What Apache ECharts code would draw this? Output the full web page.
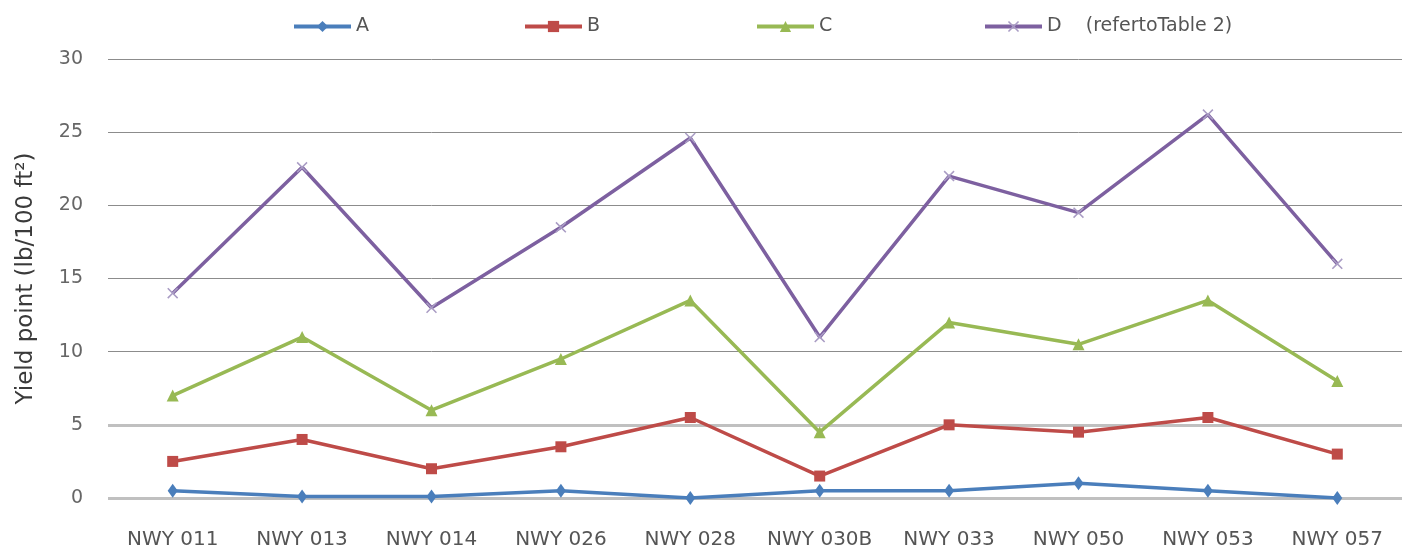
<!DOCTYPE html>
<html><head><meta charset="utf-8">
<script src="https://cdn.jsdelivr.net/npm/echarts@6/dist/echarts.min.js"></script>
<style>html,body{margin:0;padding:0;background:#fff}#c{width:1402px;height:552px}</style>
</head><body><div id="c"></div>
<script>
const categories = ['NWY 011','NWY 013','NWY 014','NWY 026','NWY 028','NWY 030B','NWY 033','NWY 050','NWY 053','NWY 057'];
const seriesA = [0.5, 0.1, 0.1, 0.5, 0, 0.5, 0.5, 1.0, 0.5, 0];
const seriesB = [2.5, 4.0, 2.0, 3.5, 5.5, 1.5, 5.0, 4.5, 5.5, 3.0];
const seriesC = [7.0, 11.0, 6.0, 9.5, 13.5, 4.5, 12.0, 10.5, 13.5, 8.0];
const seriesD = [14.0, 22.6, 13.0, 18.5, 24.6, 11.0, 22.0, 19.5, 26.2, 16.0];
const names = ['A','B','C','D    (refertoTable 2)'];
const yTicks = [0, 5, 10, 15, 20, 25, 30];
const heavyLines = [0, 5];

const font = "'DejaVu Sans','Liberation Sans',sans-serif";
const xPath = 'path://M0,1 L1,0 L5,4 L9,0 L10,1 L6,5 L10,9 L9,10 L5,6 L1,10 L0,9 L4,5 Z';
const legendLeft = [287, 518, 750, 978];

const chart = echarts.init(document.getElementById('c'));
function mk(name, data, color, symbol, size, symColor) {
  return {
    name, type: 'line', data, symbol, symbolSize: size, showSymbol: true,
    lineStyle: { color, width: 3.5 },
    itemStyle: { color: symColor || color },
    emphasis: { disabled: true },
    z: 3
  };
}
const series = [
  mk(names[0], seriesA, '#4a7ebb', 'diamond', [10,14]),
  mk(names[1], seriesB, '#be4b48', 'rect', 11),
  mk(names[2], seriesC, '#98b954', 'triangle', 12),
  mk(names[3], seriesD, '#7d60a0', xPath, 11, '#a99cc4')
];
series[0].markLine = {
  silent: true, symbol: 'none', label: { show: false },
  lineStyle: { color: '#c0c0c0', width: 3, type: 'solid' },
  data: heavyLines.map(v => ({ yAxis: v })),
  z: 1
};
chart.setOption({
  animation: false,
  backgroundColor: '#fff',
  legend: names.map((n, i) => ({
    top: 12, left: legendLeft[i], itemWidth: 57, itemHeight: 14,
    lineStyle: { width: 4 },
    textStyle: { fontFamily: font, fontSize: 19, color: '#555' },
    data: [n]
  })),
  grid: { left: 108, right: 0, top: 59, bottom: 54 },
  xAxis: {
    type: 'category', data: categories, boundaryGap: true,
    axisLine: { show: false }, axisTick: { show: false },
    axisLabel: { interval: 0, margin: 32, fontFamily: font, fontSize: 20, color: '#555' }
  },
  yAxis: {
    type: 'value', min: 0, max: 30, interval: 5,
    name: 'Yield point (lb/100 ft²)', nameLocation: 'middle', nameGap: 70, nameRotate: 90,
    nameTextStyle: { fontFamily: font, fontSize: 23, color: '#3a3a3a' },
    axisLine: { show: false }, axisTick: { show: false },
    axisLabel: { margin: 25, fontFamily: font, fontSize: 19, color: '#666',
      formatter: v => yTicks.includes(v) ? String(v) : '' },
    splitLine: { lineStyle: { color: '#8c8c8c', width: 1 } }
  },
  series
});
</script></body></html>
